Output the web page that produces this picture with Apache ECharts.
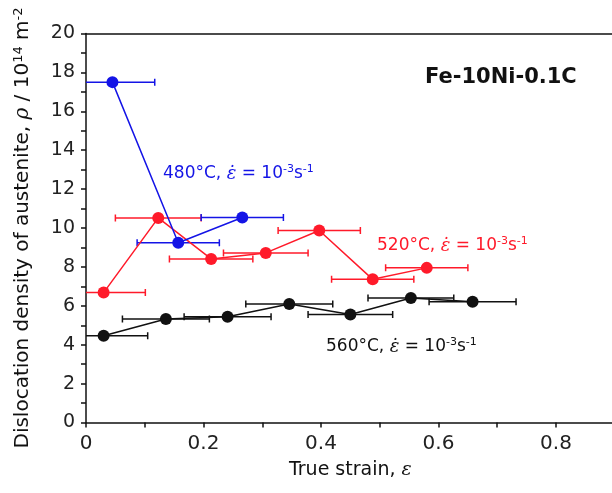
<!DOCTYPE html>
<html><head><meta charset="utf-8">
<script src="https://cdn.jsdelivr.net/npm/echarts@6/dist/echarts.min.js"></script>
<style>html,body{margin:0;padding:0;background:#fff}#c{width:612px;height:493px}</style>
</head><body><div id="c"></div>
<script>
const xTickLabels = ['0', '0.2', '0.4', '0.6', '0.8'];
const yTickLabels = ['0','2','4','6','8','10','12','14','16','18','20'];

const blueX = [0.045, 0.157, 0.266];
const blueY = [17.5, 9.24, 10.54];
const blueXErr = [0.072, 0.070, 0.070];

const redX = [0.030, 0.123, 0.213, 0.306, 0.397, 0.488, 0.580];
const redY = [6.68, 10.52, 8.41, 8.72, 9.87, 7.36, 7.95];
const redXErr = [0.071, 0.073, 0.071, 0.072, 0.070, 0.070, 0.070];

const blackX = [0.030, 0.136, 0.241, 0.346, 0.450, 0.553, 0.658];
const blackY = [4.46, 5.32, 5.44, 6.09, 5.55, 6.40, 6.21];
const blackXErr = [0.075, 0.074, 0.074, 0.074, 0.072, 0.073, 0.074];

const BLUE = '#1414e6', RED = '#ff1a2a', BLACK = '#111111';
const FONT = 'DejaVu Sans';
const SERIF = 'DejaVu Serif';

function pts(xs, ys) { return xs.map((x, i) => [x, ys[i]]); }
function errPts(xs, ys, es) { return xs.map((x, i) => [x, ys[i], es[i]]); }

function errRender(color) {
  return function (params, api) {
    const x = api.value(0), y = api.value(1), e = api.value(2);
    const a = api.coord([x - e, y]), b = api.coord([x + e, y]);
    const h = 3.5;
    const st = { stroke: color, lineWidth: 1.5 };
    return { type: 'group', children: [
      { type: 'line', shape: { x1: a[0], y1: a[1], x2: b[0], y2: b[1] }, style: st },
      { type: 'line', shape: { x1: a[0], y1: a[1] - h, x2: a[0], y2: a[1] + h }, style: st },
      { type: 'line', shape: { x1: b[0], y1: b[1] - h, x2: b[0], y2: b[1] + h }, style: st }
    ]};
  };
}

function errSeries(xs, ys, es, color) {
  return { type: 'custom', renderItem: errRender(color), data: errPts(xs, ys, es), clip: true, z: 2 };
}
function lineSeries(xs, ys, color) {
  return { type: 'line', data: pts(xs, ys), symbol: 'circle', symbolSize: 12,
    itemStyle: { color: color }, lineStyle: { color: color, width: 1.5 }, z: 3, animation: false };
}

const chart = echarts.init(document.getElementById('c'), null, { renderer: 'canvas' });
function annot(left, top, temp, color) {
  return { type: 'text', left: left, top: top, style: {
    text: temp + ', {e|ε̇} = 10{s|-3}s{s|-1}', fill: color, font: '17px ' + FONT,
    rich: { e: { fontSize: 18, fontFamily: SERIF, fontStyle: 'italic', fill: color, lineHeight: 20 },
            s: { fontSize: 11, verticalAlign: 'top', lineHeight: 20, fontFamily: FONT, fill: color } }
  }};
}

chart.setOption({
  animation: false,
  backgroundColor: '#ffffff',
  grid: { left: 86, top: 33.5, height: 389, width: 528.75, containLabel: false, outerBoundsMode: 'none' },
  xAxis: [{
    type: 'value', min: 0, max: 0.9, interval: 0.1,
    name: 'True strain, {i|ε}', nameLocation: 'middle', nameGap: 38,
    nameTextStyle: { fontSize: 19, color: '#111', fontFamily: FONT,
      rich: { i: { fontSize: 19, fontStyle: 'italic', fontFamily: SERIF, color: '#111' } } },
    axisLine: { show: true, onZero: false, lineStyle: { color: '#111', width: 1.5 } },
    axisTick: { show: true, length: 5, lineStyle: { color: '#111', width: 1.5 } },
    axisLabel: { fontSize: 20, color: '#222', fontFamily: FONT, margin: 11, showMaxLabel: false,
      formatter: v => { const k = Math.round(v * 10); return k % 2 === 0 && xTickLabels[k / 2] !== undefined ? xTickLabels[k / 2] : ''; } },
    splitLine: { show: false }
  }, {
    type: 'value', min: 0, max: 0.9, position: 'top',
    axisLine: { show: true, onZero: false, lineStyle: { color: '#111', width: 1.5 } },
    axisTick: { show: false }, axisLabel: { show: false }, splitLine: { show: false }
  }],
  yAxis: {
    type: 'value', min: 0, max: 20, interval: 1,
    name: 'Dislocation density of austenite, {i|ρ} / 10{s|14} m{s|-2}',
    nameLocation: 'middle', nameGap: 52, nameRotate: 90,
    nameTextStyle: { fontSize: 20, color: '#111', fontFamily: FONT,
      rich: { i: { fontSize: 20, fontStyle: 'italic', fontFamily: SERIF, color: '#111' },
              s: { fontSize: 13, verticalAlign: 'top', lineHeight: 22, fontFamily: FONT, color: '#111' } } },
    axisLine: { show: true, onZero: false, lineStyle: { color: '#111', width: 1.5 } },
    axisTick: { show: true, length: 5, lineStyle: { color: '#111', width: 1.5 } },
    axisLabel: { fontSize: 19, color: '#222', fontFamily: FONT, margin: 11,
      formatter: v => { const k = Math.round(v); return k % 2 === 0 ? yTickLabels[k / 2] : ''; } },
    splitLine: { show: false }
  },
  graphic: [
    { type: 'text', left: 425, top: 67, style: { text: 'Fe-10Ni-0.1C', fill: '#111', font: 'bold 21px ' + FONT } },
    annot(163, 164, '480°C', BLUE),
    annot(377, 236, '520°C', RED),
    annot(326, 337, '560°C', BLACK)
  ],
  series: [
    errSeries(redX, redY, redXErr, RED),
    errSeries(blackX, blackY, blackXErr, BLACK),
    errSeries(blueX, blueY, blueXErr, BLUE),
    lineSeries(redX, redY, RED),
    lineSeries(blackX, blackY, BLACK),
    lineSeries(blueX, blueY, BLUE)
  ]
});
</script></body></html>
